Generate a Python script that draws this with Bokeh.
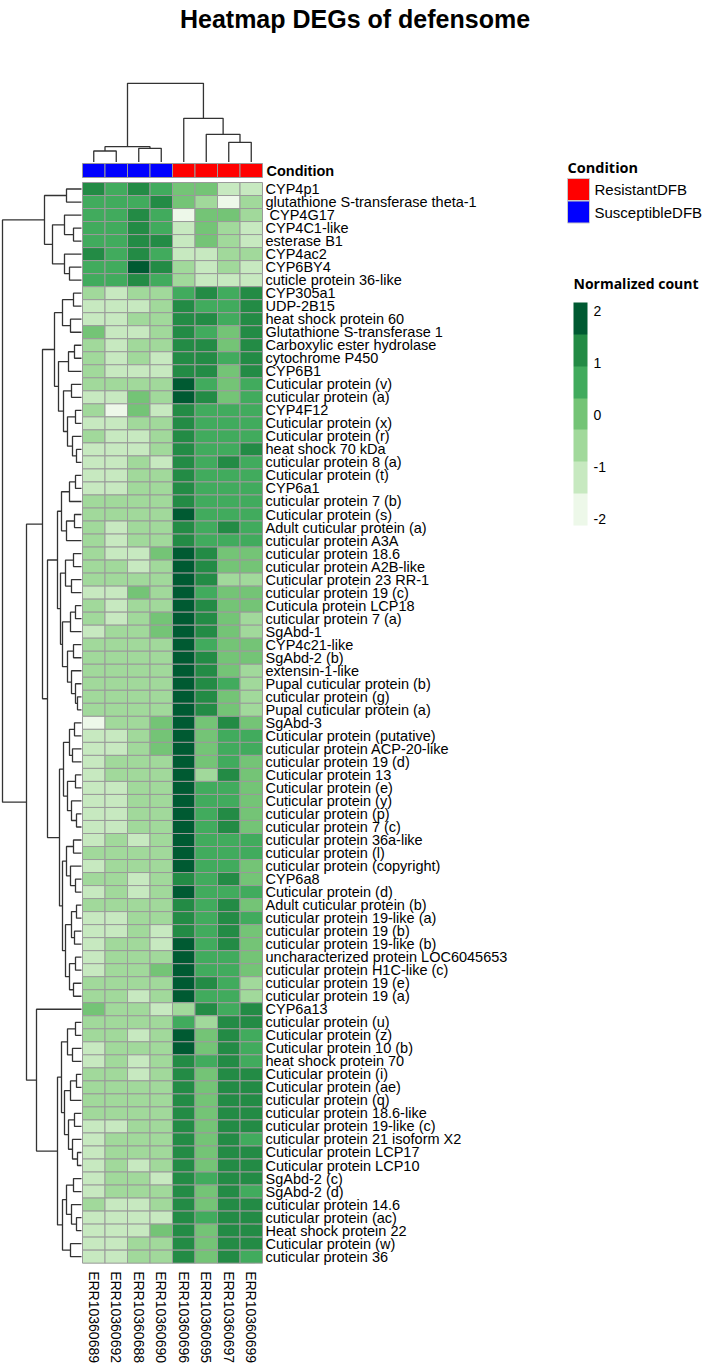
import math
from bokeh.plotting import figure
from bokeh.models import ColumnDataSource, Range1d, LinearColorMapper, ColorBar, FixedTicker
from bokeh.core.properties import value
from bokeh.embed import file_html
from bokeh.resources import INLINE

# ---------------- data ----------------
samples = ["ERR10360689", "ERR10360692", "ERR10360688", "ERR10360690",
           "ERR10360696", "ERR10360695", "ERR10360697", "ERR10360699"]
conditions = ["SusceptibleDFB", "SusceptibleDFB", "SusceptibleDFB", "SusceptibleDFB",
              "ResistantDFB", "ResistantDFB", "ResistantDFB", "ResistantDFB"]
condition_levels = ["ResistantDFB", "SusceptibleDFB"]
condition_colors = ["#FF0000", "#0000FF"]

genes = [
    "CYP4p1", "glutathione S-transferase theta-1", "\u00a0CYP4G17", "CYP4C1-like", "esterase B1",
    "CYP4ac2", "CYP6BY4", "cuticle protein 36-like", "CYP305a1", "UDP-2B15",
    "heat shock protein 60", "Glutathione S-transferase 1", "Carboxylic ester hydrolase",
    "cytochrome P450", "CYP6B1", "Cuticular protein (v)", "cuticular protein (a)", "CYP4F12",
    "Cuticular protein (x)", "Cuticular protein (r)", "heat shock 70 kDa",
    "cuticular protein 8 (a)", "Cuticular protein (t)", "CYP6a1", "cuticular protein 7 (b)",
    "Cuticular protein (s)", "Adult cuticular protein (a)", "cuticular protein A3A",
    "cuticular protein 18.6", "cuticular protein A2B-like", "Cuticular protein 23 RR-1",
    "cuticular protein 19 (c)", "Cuticula protein LCP18", "cuticular protein 7 (a)", "SgAbd-1",
    "CYP4c21-like", "SgAbd-2 (b)", "extensin-1-like", "Pupal cuticular protein (b)",
    "cuticular protein (g)", "Pupal cuticular protein (a)", "SgAbd-3",
    "Cuticular protein (putative)", "cuticular protein ACP-20-like", "cuticular protein 19 (d)",
    "Cuticular protein 13", "Cuticular protein (e)", "Cuticular protein (y)",
    "cuticular protein (p)", "cuticular protein 7 (c)", "cuticular protein 36a-like",
    "cuticular protein (l)", "cuticular protein (copyright)", "CYP6a8", "Cuticular protein (d)",
    "Adult cuticular protein (b)", "cuticular protein 19-like (a)", "cuticular protein 19 (b)",
    "cuticular protein 19-like (b)", "uncharacterized protein LOC6045653",
    "cuticular protein H1C-like (c)", "cuticular protein 19 (e)", "cuticular protein 19 (a)",
    "CYP6a13", "cuticular protein (u)", "Cuticular protein (z)", "Cuticular protein 10 (b)",
    "heat shock protein 70", "Cuticular protein (i)", "Cuticular protein (ae)",
    "cuticular protein (q)", "cuticular protein 18.6-like", "cuticular protein 19-like (c)",
    "cuticular protein 21 isoform X2", "Cuticular protein LCP17", "Cuticular protein LCP10",
    "SgAbd-2 (c)", "SgAbd-2 (d)", "cuticular protein 14.6", "cuticular protein (ac)",
    "Heat shock protein 22", "Cuticular protein (w)", "cuticular protein 36",
]

# normalized counts (row z-scores), one list per sample, rows in gene order
ERR10360689 = [1.2, 0.6, 0.6, 0.6, 0.6, 1.2, 0.6, 0.6, -0.6, -1.2,
               -1.2, 0.0, -0.6, -0.6, -0.6, -0.6, -1.2, -0.6, -1.2, -0.6,
               -1.2, -1.2, -1.2, -1.2, -0.6, -0.6, -0.6, -0.6, -0.6, -0.6,
               -0.6, -1.2, -0.6, -0.6, -1.2, -0.6, -0.6, -0.6, -0.6, -0.6,
               -0.6, -1.8, -1.2, -1.2, -1.2, -1.2, -1.2, -1.2, -1.2, -1.2,
               -1.2, -0.6, -1.2, -0.6, -1.2, -0.6, -1.2, -1.2, -1.2, -1.2,
               -1.2, -0.6, -0.6, 0.0, -0.6, -0.6, -1.2, -1.2, -0.6, -0.6,
               -0.6, -0.6, -1.2, -1.2, -1.2, -1.2, -1.2, -1.2, -0.6, -1.2,
               -1.2, -1.2, -1.2]
ERR10360692 = [0.6, 0.6, 0.6, 0.6, 0.6, 0.6, 0.6, 0.6, -1.2, -1.2,
               -1.2, -1.2, -1.2, -1.2, -1.2, -0.6, -1.2, -1.8, -1.2, -1.2,
               -1.2, -1.2, -1.2, -1.2, -0.6, -0.6, -1.2, -1.2, -1.2, -0.6,
               -0.6, -1.2, -1.2, -1.2, -0.6, -0.6, -0.6, -0.6, -0.6, -0.6,
               -0.6, -0.6, -1.2, -1.2, -0.6, -0.6, -1.2, -1.2, -1.2, -1.2,
               -0.6, -0.6, -0.6, -0.6, -0.6, -0.6, -1.2, -1.2, -0.6, -0.6,
               -0.6, -0.6, -0.6, -0.6, -0.6, -0.6, -0.6, -0.6, -0.6, -0.6,
               -0.6, -0.6, -1.2, -0.6, -0.6, -0.6, -0.6, -0.6, -1.2, -1.2,
               -1.2, -1.2, -1.2]
ERR10360688 = [1.2, 0.6, 1.2, 1.2, 1.2, 1.2, 1.9, 1.2, -0.6, -1.2,
               -0.6, -1.2, -0.6, -0.6, -1.2, -0.6, 0.0, 0.0, -0.6, -1.2,
               -1.2, -0.6, -0.6, -0.6, -0.6, -0.6, -0.6, -0.6, -1.2, -1.2,
               -0.6, 0.0, -0.6, -0.6, -0.6, -0.6, -0.6, -0.6, -0.6, -0.6,
               -0.6, -0.6, -0.6, -0.6, -0.6, -0.6, -0.6, -0.6, -0.6, -0.6,
               -1.2, -0.6, -0.6, -1.2, -1.2, -0.6, -0.6, -0.6, -0.6, -0.6,
               -0.6, -0.6, -1.2, -0.6, -0.6, -1.2, -0.6, -1.2, -1.2, -0.6,
               -0.6, -0.6, -0.6, -0.6, -0.6, -1.2, -0.6, -0.6, -1.2, -1.2,
               -1.2, -0.6, -0.6]
ERR10360690 = [0.6, 1.2, 0.6, 0.6, 1.2, 0.6, 1.2, 0.6, -0.6, -0.6,
               -0.6, -0.6, -0.6, -1.2, -1.2, -0.6, -0.6, -1.2, -0.6, -0.6,
               -0.6, -1.2, -0.6, -0.6, -0.6, -0.6, -0.6, -0.6, 0.0, -0.6,
               -0.6, -0.6, -0.6, 0.0, 0.0, -0.6, -0.6, -0.6, -0.6, -0.6,
               -0.6, 0.0, 0.0, 0.0, -0.6, -0.6, -0.6, -0.6, -0.6, -0.6,
               -0.6, -0.6, -0.6, -0.6, -0.6, -0.6, -0.6, -1.2, -1.2, -0.6,
               0.0, -0.6, -0.6, -1.2, -0.6, -0.6, -0.6, -0.6, -0.6, -0.6,
               -0.6, -0.6, -0.6, -0.6, -0.6, -0.6, -1.2, -0.6, -0.6, -1.2,
               0.0, -0.6, -0.6]
ERR10360696 = [0.0, 0.0, -1.8, -1.2, -1.2, -1.2, -0.6, -0.6, 0.6, 1.2,
               1.2, 1.2, 1.2, 1.2, 1.2, 1.9, 1.9, 1.2, 1.2, 1.2,
               1.2, 1.2, 1.2, 1.2, 1.2, 1.9, 1.2, 1.2, 1.9, 1.9,
               1.9, 1.9, 1.9, 1.9, 1.9, 1.9, 1.9, 1.9, 1.9, 1.9,
               1.9, 1.9, 1.9, 1.9, 1.9, 1.9, 1.9, 1.9, 1.9, 1.9,
               1.9, 1.9, 1.9, 1.2, 1.9, 1.2, 1.2, 1.2, 1.9, 1.9,
               1.9, 1.9, 1.9, -0.6, 0.6, 1.9, 1.9, 1.2, 1.2, 1.2,
               1.2, 1.2, 1.2, 1.2, 1.2, 1.2, 1.2, 1.2, 1.2, 1.2,
               1.2, 1.2, 1.2]
ERR10360695 = [0.0, -0.6, 0.0, 0.0, 0.0, -1.2, -1.2, -1.2, 1.2, 0.6,
               1.2, 0.6, 1.2, 1.2, 1.2, 0.6, 1.2, 0.6, 0.6, 0.6,
               0.6, 0.6, 0.6, 0.6, 0.6, 0.6, 0.6, 0.6, 1.2, 1.2,
               1.2, 0.6, 1.2, 1.2, 1.2, 0.6, 1.2, 1.2, 1.2, 1.2,
               1.2, 0.0, 0.0, 0.0, 0.0, -0.6, 0.6, 0.6, 0.6, 0.6,
               0.6, 0.6, 0.6, 0.6, 0.6, 0.6, 0.6, 0.6, 0.6, 0.6,
               0.6, 1.2, 0.6, 1.2, -0.6, 0.0, 0.0, 0.6, 0.0, 0.0,
               0.0, 0.0, 0.0, 0.0, 0.0, 0.0, 0.6, 0.0, 0.0, 0.6,
               0.0, 0.0, 0.0]
ERR10360697 = [-1.2, -1.8, 0.0, -0.6, -0.6, -0.6, -0.6, -1.2, 0.6, 0.6,
               0.6, 0.0, 0.0, 0.6, 0.0, 0.0, 0.0, 0.6, 0.6, 0.6,
               0.6, 1.2, 0.6, 0.6, 0.6, 0.6, 1.2, 0.6, 0.0, 0.0,
               -0.6, 0.0, 0.0, 0.0, 0.0, 0.0, 0.0, 0.0, 0.6, 0.0,
               0.0, 1.2, 0.6, 0.6, 0.6, 1.2, 0.6, 0.6, 1.2, 1.2,
               0.6, 0.6, 0.6, 1.2, 0.6, 1.2, 1.2, 1.2, 1.2, 0.6,
               0.6, 0.6, 0.6, 0.6, 1.2, 1.2, 1.2, 1.2, 1.2, 1.2,
               1.2, 1.2, 1.2, 1.2, 1.2, 1.2, 1.2, 1.2, 1.2, 1.2,
               1.2, 1.2, 1.2]
ERR10360699 = [-1.2, -0.6, -0.6, -1.2, -1.2, -0.6, -1.2, -1.2, 1.2, 1.2,
               1.2, 1.2, 1.2, 1.2, 1.2, 0.6, 0.6, 0.6, 0.6, 0.6,
               1.2, 0.6, 0.6, 0.6, 0.6, 0.6, 0.6, 0.6, 0.0, 0.0,
               -0.6, 0.0, 0.0, -0.6, -0.6, 0.0, 0.0, -0.6, -0.6, -0.6,
               -0.6, 0.0, 0.6, 0.6, 0.0, 0.0, 0.0, 0.0, 0.0, 0.0,
               0.6, 0.6, 0.0, 0.0, 0.6, 0.0, 0.6, 0.0, 0.0, 0.0,
               0.0, -0.6, -0.6, 1.2, 1.2, 0.6, 0.6, 0.6, 1.2, 1.2,
               1.2, 1.2, 1.2, 0.6, 1.2, 1.2, 1.2, 0.6, 1.2, 1.2,
               1.2, 1.2, 0.6]

sample_values = [ERR10360689, ERR10360692, ERR10360688, ERR10360690,
                 ERR10360696, ERR10360695, ERR10360697, ERR10360699]

# clustering trees: [merge height, left, right]; leaves are column / row indices
col_tree = [7.87, [1.53, [1.10, 0, 1], [1.37, 2, 3]],
            [4.37, 4, [2.77, 5, [1.97, 6, 7]]]]

row_A = [3.7, [1.5, 0, 1], [2.9, [1.7, 2, [0.8, 3, 4]], [1.7, 5, [1.2, 6, 7]]]]
row_N2 = [2.7, [1.9, [0.8, 8, 9], [1.1, 10, 11]],
          [2.3, [1.3, [0.7, 12, 13], 14],
           [1.8, [1.0, 15, 16], [1.4, [0.6, 17, 18], [0.9, 19, [0.5, 20, 21]]]]]]
row_N4 = [2.4, [2.0, [1.2, [0.6, 22, 23], 24], [1.5, [0.7, 25, 26], 27]],
          [2.1, [1.6, [0.8, 28, 29], [1.0, 30, 31]],
           [1.9, [1.1, [0.6, 32, 33], 34],
            [1.4, [0.8, 35, 36], [1.0, 37, [0.6, 38, [0.4, 39, 40]]]]]]]
row_N5 = [2.2, [1.8, [1.2, [0.7, 41, 42], [0.9, 43, 44]],
                [1.4, [0.6, 45, 46], [1.0, 47, [0.5, 48, 49]]]],
          [1.9, [1.5, [0.8, 50, 51], [1.1, 52, [0.6, 53, 54]]],
           [1.6, [1.0, [0.5, 55, 56], [0.7, 57, 58]], [1.2, [0.6, 59, 60], [0.8, 61, 62]]]]]
row_N6 = [2.4, [2.0, [1.4, [0.6, 64, 65], [0.9, 66, 67]],
                [1.7, [1.1, [0.5, 68, 69], 70], [1.3, [0.7, 71, 72], [0.9, 73, [0.4, 74, 75]]]]],
          [1.9, [1.5, [0.8, 76, 77], [1.0, 78, [0.5, 79, 80]]], [1.1, 81, 82]]]
row_tree = [7.9, row_A, [5.5, [3.9, row_N2, [3.4, row_N4, row_N5]], [4.5, 63, row_N6]]]

greens7 = ["#edf8e9", "#c7e9c0", "#a1d99b", "#74c476", "#41ab5d", "#238b45", "#005a32"]
legend_ticks = [-2, -1, 0, 1, 2]
scale_low, scale_high = -2.13, 2.17

# ---------------- layout constants (pixels) ----------------
W, H = 709, 1367
HX0, CW = 82.0, 22.5          # heatmap left edge, column width
HY0, RH = 182.0, 13.02        # heatmap top edge, row height
TREE_PX = 10.0                # pixels per unit of merge height
ROW_LEAF_X = 81.0
COL_LEAF_Y = 161.5
BAR_Y0, BAR_Y1 = 163.0, 177.0
GRID = "#9a9a9a"
TREE_COLOR = "#333333"
FONT = "Liberation Sans"

p = figure(width=W, height=H, x_range=Range1d(0, W), y_range=Range1d(H, 0),
           output_backend="svg", toolbar_location=None, min_border=0,
           background_fill_color="white", border_fill_color="white")
p.axis.visible = False
p.grid.visible = False
p.outline_line_color = None


def col_x(j):
    return HX0 + CW * (j + 0.5)


def row_y(i):
    return HY0 + RH * (i + 0.5)


# heatmap cells
mapper = LinearColorMapper(palette=greens7, low=scale_low, high=scale_high)
cx, cy, cv = [], [], []
for j, vals in enumerate(sample_values):
    for i, v in enumerate(vals):
        cx.append(col_x(j))
        cy.append(row_y(i))
        cv.append(v)
src = ColumnDataSource(dict(x=cx, y=cy, v=cv))
p.rect(x="x", y="y", width=CW, height=RH, source=src,
       fill_color={"field": "v", "transform": mapper},
       line_color=GRID, line_width=1)

# condition annotation bar
cond_color_map = dict(zip(condition_levels, condition_colors))
p.rect(x=[col_x(j) for j in range(len(samples))],
       y=[(BAR_Y0 + BAR_Y1) / 2] * len(samples),
       width=CW, height=BAR_Y1 - BAR_Y0,
       fill_color=[cond_color_map[c] for c in conditions],
       line_color=GRID, line_width=1)
p.text(x=[HX0 + CW * len(samples) + 4], y=[(BAR_Y0 + BAR_Y1) / 2 + 0.5], text=["Condition"],
       text_font=value(FONT), text_font_style="bold", text_font_size="14.5px",
       text_baseline="middle", text_align="left", text_color="black")


# dendrograms
def tree_segments(node, leafpos):
    if isinstance(node, int):
        return leafpos(node), 0.0, []
    h, a, b = node
    pa, ha, sa = tree_segments(a, leafpos)
    pb, hb, sb = tree_segments(b, leafpos)
    seg = [(pa, ha), (pa, h), (pb, h), (pb, hb)]
    return (pa + pb) / 2.0, h, sa + sb + [seg]


_, _, csegs = tree_segments(col_tree, col_x)
p.multi_line(xs=[[q[0] for q in s] for s in csegs],
             ys=[[COL_LEAF_Y - TREE_PX * q[1] for q in s] for s in csegs],
             line_color=TREE_COLOR, line_width=1.3)

_, _, rsegs = tree_segments(row_tree, row_y)
p.multi_line(xs=[[ROW_LEAF_X - TREE_PX * q[1] for q in s] for s in rsegs],
             ys=[[q[0] for q in s] for s in rsegs],
             line_color=TREE_COLOR, line_width=1.3)

# row labels
p.text(x=[HX0 + CW * len(samples) + 3] * len(genes), y=[row_y(i) for i in range(len(genes))],
       text=genes, text_font=value(FONT), text_font_size="14.5px",
       text_baseline="middle", text_align="left", text_color="black")

# column labels
p.text(x=[col_x(j) for j in range(len(samples))], y=[HY0 + RH * len(genes) + 8] * len(samples),
       text=samples, angle=-math.pi / 2, text_font=value(FONT), text_font_size="14px",
       text_baseline="middle", text_align="left", text_color="black")

# title
p.text(x=[W / 2], y=[18.5], text=["Heatmap DEGs of defensome"], text_font=value(FONT),
       text_font_style="bold", text_font_size="25px", text_baseline="middle",
       text_align="center", text_color="black")

# condition legend
LX, LY = 567.0, 167.0
p.text(x=[LX], y=[LY], text=["Condition"], text_font=value("Open Sans"),
       text_font_style="bold", text_font_size="14.5px", text_baseline="middle",
       text_align="left", text_color="black")
ly = [LY + 22 + 22.5 * k for k in range(len(condition_levels))]
p.rect(x=[LX + 11] * len(condition_levels), y=ly, width=22, height=22,
       fill_color=condition_colors, line_color="#c8c8c8", line_width=1)
p.text(x=[LX + 27] * len(condition_levels), y=ly, text=condition_levels,
       text_font=value(FONT), text_font_size="15px", text_baseline="middle",
       text_align="left", text_color="black")

# color bar for normalized count (bar from the colour mapper, labels at tick values)
CBX, CBTOP, CBH, CBW = 573.0, 302.0, 223, 14
p.text(x=[CBX], y=[283], text=["Normalized count"], text_font=value("Open Sans"),
       text_font_style="bold", text_font_size="14px", text_baseline="middle",
       text_align="left", text_color="black")
cb = ColorBar(color_mapper=mapper, ticker=FixedTicker(ticks=[]),
              width=CBW, height=CBH, location=(CBX, H - CBTOP - CBH), orientation="vertical",
              title=None, padding=0, margin=0, label_standoff=0,
              major_tick_line_color=None, minor_tick_line_color=None,
              bar_line_color=None, background_fill_alpha=0, border_line_color=None)
p.add_layout(cb)
tick_y = [CBTOP + (scale_high - t) / (scale_high - scale_low) * CBH for t in legend_ticks]
p.text(x=[CBX + CBW + 6] * len(legend_ticks), y=tick_y, text=[str(t) for t in legend_ticks],
       text_font=value(FONT), text_font_size="14px", text_baseline="middle",
       text_align="left", text_color="black")

open("out.html", "w").write(file_html(p, INLINE))
